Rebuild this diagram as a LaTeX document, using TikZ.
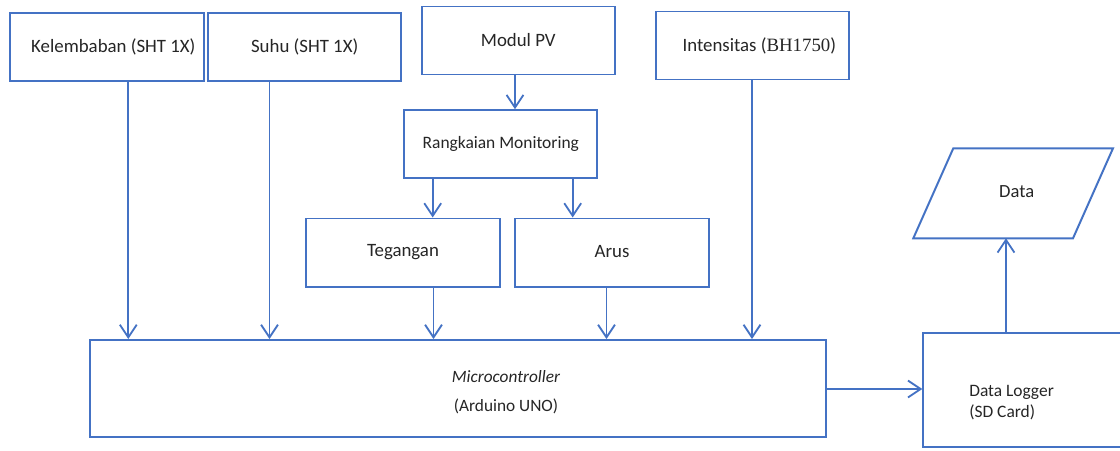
\documentclass[tikz,border=0pt]{standalone}
\usepackage{fontspec}
\setmainfont{Carlito}
\newfontfamily\tnrfont{Liberation Serif}
\usetikzlibrary{arrows.meta,calc}
\definecolor{lineblue}{HTML}{4472C4}
\definecolor{txt}{HTML}{262626}
\tikzset{
  box/.style={draw=lineblue, line width=1.4pt, rectangle, minimum width=4.825cm, minimum height=1.7cm, inner sep=0pt, text=txt, font=\fontsize{13.4pt}{16pt}\selectfont},
  bigbox/.style={draw=lineblue, line width=1.4pt, rectangle, inner sep=0pt},
  arr/.style={draw=lineblue, line width=1.4pt, -{Straight Barb[length=9pt,width=12pt,line width=1.3pt]}},
  lbl/.style={text=txt, inner sep=0pt}
}
\begin{document}
\begin{tikzpicture}[x=0.025cm,y=-0.025cm]
\useasboundingbox (0,0) rectangle (1120,450);
\clip (0,0) rectangle (1120,450);
\fill[white] (0,0) rectangle (1120,450);

% top boxes
\node[box] (kel) at (107,46.7) {\hspace*{9pt}Kelembaban (SHT 1X)};
\node[box] (suhu) at (304.7,46.7) {Suhu (SHT 1X)};
\node[box] (pv) at (518.3,40.5) {Modul PV};
\node[box] (int) at (752.3,45.5) {\hspace*{10pt}Intensitas ({\tnrfont BH1750})};
\node[box, font=\fontsize{12.4pt}{15pt}\selectfont] (rm) at (500.8,144.2) {Rangkaian Monitoring};
\node[box] (teg) at (403,252.5) {\raisebox{2pt}{Tegangan}};
\node[box] (arus) at (612,252.5) {\raisebox{2pt}{Arus}};

% microcontroller
\node[bigbox, minimum width=18.4cm, minimum height=2.425cm] (mc) at (458,388.5) {};
\node[lbl, align=center, font=\fontsize{12.3pt}{15pt}\selectfont] (mctext) at (506,392) {{\itshape Microcontroller}\\[5.5pt](Arduino UNO)};

% data logger
\node[bigbox, minimum width=5.17cm, minimum height=2.85cm] (dl) at (1026.7,390) {};
\node[lbl, anchor=west, align=left, font=\fontsize{12.4pt}{15pt}\selectfont] (dltext) at (969,403) {Data Logger\\(SD Card)};

% data parallelogram
\coordinate (ptl) at (953.3,148.3);
\coordinate (ptr) at (1113,148.3);
\coordinate (pbr) at (1073,238.3);
\coordinate (pbl) at (913.3,238.3);
\draw[lineblue, line width=1.4pt] (ptl) -- (ptr) -- (pbr) -- (pbl) -- cycle;
\node[lbl, font=\fontsize{13.2pt}{16pt}\selectfont] (data) at (1016.7,191.7) {Data};

% x positions of connectors
\coordinate (xk) at (128.3,0);
\coordinate (xs) at (269.5,0);
\coordinate (xpv) at (515,0);
\coordinate (xrt) at (432.7,0);
\coordinate (xra) at (572.7,0);
\coordinate (xt) at (433.5,0);
\coordinate (xa) at (606.5,0);
\coordinate (xi) at (752,0);
\coordinate (xd) at (1006,0);
\coordinate (ymc) at (0,389);

% connectors
\draw[arr] (kel.south -| xk) -- (mc.north -| xk);
\draw[arr] (suhu.south -| xs) -- (mc.north -| xs);
\draw[arr] (pv.south -| xpv) -- (rm.north -| xpv);
\draw[arr] (rm.south -| xrt) -- (teg.north -| xrt);
\draw[arr] (rm.south -| xra) -- (arus.north -| xra);
\draw[arr] (teg.south -| xt) -- (mc.north -| xt);
\draw[arr] (arus.south -| xa) -- (mc.north -| xa);
\draw[arr] (int.south -| xi) -- (mc.north -| xi);
\draw[arr] (mc.east |- ymc) -- (dl.west |- ymc);
\draw[arr] (dl.north -| xd) -- (pbl -| xd);
\end{tikzpicture}
\end{document}
